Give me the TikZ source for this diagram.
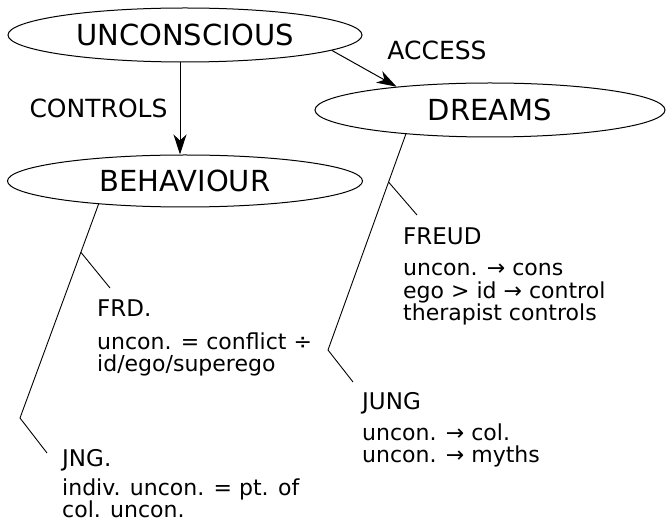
\documentclass[tikz,border=0pt]{standalone}
\usepackage{fontspec}
\setmainfont{DejaVu Sans}
\usetikzlibrary{shapes.geometric,arrows.meta}
\tikzset{
  bubble/.style={draw=black,line width=1pt,ellipse,inner sep=0pt,font=\fontsize{29}{32}\selectfont},
  link/.style={draw=black,line width=1pt,-{Stealth[length=20pt,width=13pt,inset=6pt]}},
  branch/.style={draw=black,line width=0.9pt},
  edgelabel/.style={inner sep=0pt,font=\fontsize{25}{28}\selectfont},
  head/.style={inner sep=0pt,anchor=base west,font=\fontsize{23}{26}\selectfont},
  body/.style={inner sep=0pt,anchor=base west,align=left,font=\fontsize{22}{22.5}\selectfont}
}
\begin{document}
\begin{tikzpicture}[x=1pt,y=-1pt]
\useasboundingbox (0,0) rectangle (667,526);
\node[bubble,minimum width=354pt,minimum height=54pt] (unc) at (185,35) {UNCONSCIOUS};
\node[bubble,minimum width=355pt,minimum height=52pt] (beh) at (185,181) {BEHAVIOUR};
\node[bubble,minimum width=350pt,minimum height=54pt] (drm) at (490,110) {DREAMS};
\draw[link] ([xshift=-5pt]unc.south) -- node[edgelabel,left=12pt] (lctl) {CONTROLS} ([xshift=-5pt]beh.north);
\draw[link] (unc.-6) -- (drm.166);
\node[edgelabel] (lacc) at (437,50) {ACCESS};
% Dreams side
\coordinate (dcorner) at (328,350);
\coordinate (dfreud) at (417,215);
\coordinate (djung) at (353,382);
\draw[branch] (drm.196) -- (dcorner) -- (djung);
\path (drm.196) -- (dcorner) coordinate[pos=0.222] (dsplit);
\draw[branch] (dsplit) -- (dfreud);
\node[head] (freud) at (403,245) {FREUD};
\node[body] (freudtxt) at (403,321) {uncon. → cons\\ego > id → control\\therapist controls};
\node[head] (jung) at (362,410) {JUNG};
\node[body] (jungtxt) at (362,463) {uncon. → col.\\uncon. → myths};
% Behaviour side
\coordinate (bcorner) at (20,418);
\coordinate (bfrd) at (110,288);
\coordinate (bjng) at (47,453);
\draw[branch] (beh.195) -- (bcorner) -- (bjng);
\path (beh.195) -- (bcorner) coordinate[pos=0.225] (bsplit);
\draw[branch] (bsplit) -- (bfrd);
\node[head] (frd) at (97,317) {FRD.};
\node[body] (frdtxt) at (97,372) {uncon. = conflict ÷\\id/ego/superego};
\node[head] (jng) at (62,467) {JNG.};
\node[body] (jngtxt) at (62,518) {indiv. uncon. = pt. of\\col. uncon.};
\end{tikzpicture}
\end{document}
